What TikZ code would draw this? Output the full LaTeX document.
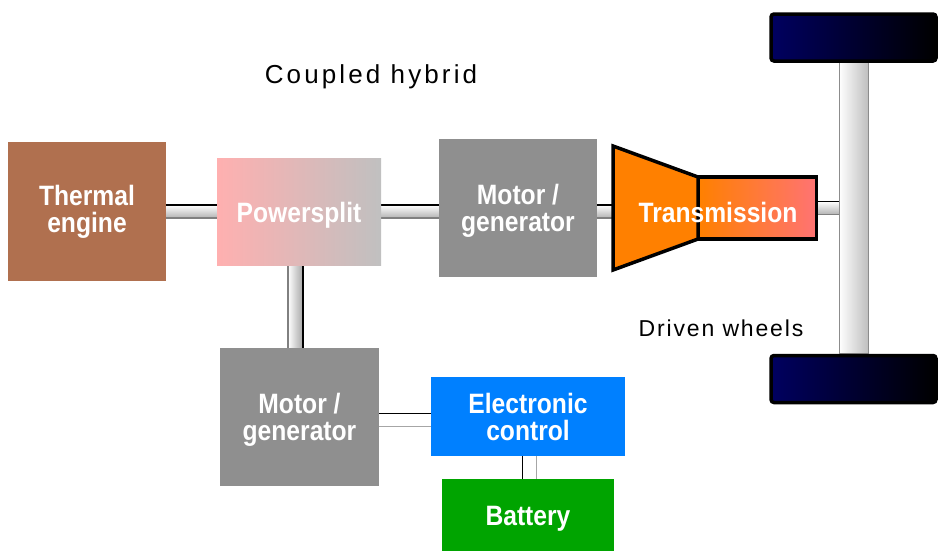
\documentclass[tikz,border=0pt]{standalone}
\usepackage{fontspec}
\setmainfont{Liberation Sans}
\usetikzlibrary{calc,backgrounds}
\definecolor{thermal}{HTML}{B0704F}
\definecolor{psl}{HTML}{FFB0B0}
\definecolor{psr}{HTML}{C0C0C0}
\definecolor{mg}{HTML}{8F8F8F}
\definecolor{ecu}{HTML}{0080FF}
\definecolor{batt}{HTML}{00A400}
\definecolor{trorange}{HTML}{FF8000}
\definecolor{trpink}{HTML}{FF7373}
\definecolor{wheelnavy}{HTML}{000060}
\newcommand{\myhshaft}[2]{%
  \shade[top color=white,bottom color=black!30] ($#1+(0,-6.5)$) rectangle ($#2+(0,6.5)$);
  \draw[line width=1.2pt] ($#1+(0,-6.5)$) -- ($#2+(0,-6.5)$);
  \draw[line width=1.2pt,black!50] ($#1+(0,6.5)$) -- ($#2+(0,6.5)$);}
\begin{document}
\begin{tikzpicture}[x=1pt,y=-1pt,
  blk/.style={text=white,font=\bfseries\fontsize{28}{27}\selectfont\addfontfeature{FakeStretch=0.88},align=center,inner sep=0pt},
  wheel/.style={draw=black,line width=3.5pt,rounded corners=3pt,left color=wheelnavy,right color=black,inner sep=0pt,minimum width=165,minimum height=47},
  lbl/.style={font=\fontsize{26}{26}\selectfont\addfontfeature{LetterSpace=12}}]
\useasboundingbox (0,0) rectangle (945,558);
% blocks
\node[blk,fill=thermal,minimum width=158,minimum height=139] (te) at (87,211.5) {Thermal\\engine};
\node[blk,left color=psl,right color=psr,minimum width=164,minimum height=107,
  label={[blk,yshift=-3.5pt]center:Powersplit}] (ps) at (299,211.5) {};
\node[blk,fill=mg,minimum width=158,minimum height=138,
  label={[blk,yshift=-3pt]center:Motor /\\generator}] (mt) at (518,208) {};
\node[blk,fill=mg,minimum width=159,minimum height=138,
  label={[blk,yshift=-3pt]center:Motor /\\generator}] (mb) at (299.5,417) {};
\node[blk,fill=ecu,minimum width=194,minimum height=79] (ec) at (528,416.5) {Electronic\\control};
\node[blk,fill=batt,minimum width=172,minimum height=72,
  label={[blk,yshift=-3.5pt]center:Battery}] (ba) at (528,515) {};
% transmission
\node[draw=black,line width=3.5pt,left color=trorange,right color=trpink,minimum width=118,minimum height=62,inner sep=0pt] (trb) at (757.5,208) {};
\coordinate (t1) at (613,146);
\coordinate (t2) at (698,177);
\coordinate (t3) at (698,239);
\coordinate (t4) at (613,270);
\draw[line width=3.5pt,fill=trorange,line join=miter] (t1) -- (t2) -- (t3) -- (t4) -- cycle;
\node[blk] (trt) at (718,212.5) {Transmission};
% wheels
\node[wheel] (wt) at (853.5,37.5) {};
\node[wheel] (wb) at (853.5,379) {};
% labels
\node[lbl] (title) at (371,77) {Coupled hybrid};
\node[lbl,font=\fontsize{23}{23}\selectfont\addfontfeature{LetterSpace=8}] (dw) at (721,328) {Driven wheels};
% shafts and wires
\begin{scope}[on background layer]
\myhshaft{(te.center)}{(ps.center)}
\myhshaft{(ps.center)}{(ps.center -| mt.center)}
\myhshaft{(mt.center |- ps.center)}{(ps.center -| trt.center)}
\myhshaft{(trb.center)}{(trb.center -| wt.south)}
\shade[left color=white,right color=black!25,draw=black!45,line width=1pt] ($(wt.south)+(-14.5,0)$) rectangle ($(wb.north)+(14.5,0)$);
\shade[left color=white,right color=black!35] ($(ps.south)+(-11,0)$) rectangle ($(mb.north)+(3.5,0)$);
\draw[line width=1.2pt,black!50] ($(ps.south)+(-11,0)$) -- ($(mb.north)+(-11.5,0)$);
\draw[line width=1.2pt] ($(ps.south)+(4,0)$) -- ($(mb.north)+(3.5,0)$);
\draw[line width=1pt] ($(mb.east)+(0,-4)$) -- ($(mb.east -| ec.west)+(0,-4)$);
\draw[line width=1pt,black!35] ($(mb.east)+(0,9)$) -- ($(mb.east -| ec.west)+(0,9)$);
\draw[line width=1pt] ($(ec.south)+(-6,0)$) -- ($(ba.north)+(-6,0)$);
\draw[line width=1pt,black!35] ($(ec.south)+(8,0)$) -- ($(ba.north)+(8,0)$);
\end{scope}
\end{tikzpicture}
\end{document}
